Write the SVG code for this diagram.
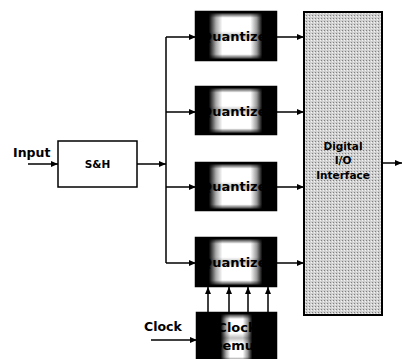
<svg xmlns="http://www.w3.org/2000/svg" width="402" height="359" viewBox="0 0 402 359">
<style>
.lbl{font-family:"DejaVu Sans","Liberation Sans",sans-serif;font-weight:bold;fill:#000}
.qt{font-family:"DejaVu Sans","Liberation Sans",sans-serif;font-weight:bold;fill:#000;font-size:13px;text-anchor:middle}
.ln{stroke:#000;stroke-width:1.5;fill:none}
.q{stroke:#000;stroke-width:2.5;fill:url(#qg)}
.qv{fill:url(#vg)}
</style>
<defs>
<marker id="ah" viewBox="0 0 10 10" refX="10" refY="5" markerWidth="7" markerHeight="6" markerUnits="userSpaceOnUse" orient="auto-start-reverse" preserveAspectRatio="none">
<path d="M0,0L10,5L0,10z" fill="#000"/>
</marker>
<linearGradient id="vg" x1="0" y1="0" x2="0" y2="1">
<stop offset="0" stop-color="#000" stop-opacity="1"/>
<stop offset="0.12" stop-color="#000" stop-opacity="0"/>
<stop offset="0.4" stop-color="#000" stop-opacity="0"/>
<stop offset="0.5" stop-color="#000" stop-opacity="0.25"/>
<stop offset="0.6" stop-color="#000" stop-opacity="0"/>
<stop offset="0.88" stop-color="#000" stop-opacity="0"/>
<stop offset="1" stop-color="#000" stop-opacity="1"/>
</linearGradient>
<linearGradient id="qg" x1="0" y1="0" x2="1" y2="0">
<stop offset="0" stop-color="#000"/>
<stop offset="0.16" stop-color="#000"/>
<stop offset="0.25" stop-color="#aaa"/>
<stop offset="0.33" stop-color="#fff"/>
<stop offset="0.68" stop-color="#fff"/>
<stop offset="0.76" stop-color="#999"/>
<stop offset="0.83" stop-color="#000"/>
<stop offset="1" stop-color="#000"/>
</linearGradient>
<linearGradient id="cg" x1="0" y1="0" x2="1" y2="0">
<stop offset="0" stop-color="#000"/>
<stop offset="0.3" stop-color="#000"/>
<stop offset="0.37" stop-color="#aaa"/>
<stop offset="0.42" stop-color="#fff"/>
<stop offset="0.58" stop-color="#fff"/>
<stop offset="0.64" stop-color="#999"/>
<stop offset="0.7" stop-color="#000"/>
<stop offset="1" stop-color="#000"/>
</linearGradient>
<pattern id="stip" width="3" height="3" patternUnits="userSpaceOnUse">
<rect width="3" height="3" fill="#d0d0d0"/>
<rect x="0" y="0" width="1" height="1" fill="#808080"/>
<rect x="2" y="1" width="1" height="1" fill="#f4f4f4"/>
</pattern>
</defs>

<g id="connectors">
<path class="ln" d="M28,164H58" marker-end="url(#ah)"/>
<path class="ln" d="M137,164H166" marker-end="url(#ah)"/>
<path class="ln" d="M166,37V263"/>
<path class="ln" d="M166,37H196" marker-end="url(#ah)"/>
<path class="ln" d="M166,112H196" marker-end="url(#ah)"/>
<path class="ln" d="M166,187H196" marker-end="url(#ah)"/>
<path class="ln" d="M166,263H196" marker-end="url(#ah)"/>
<path class="ln" d="M276,37H304" marker-end="url(#ah)"/>
<path class="ln" d="M276,112H304" marker-end="url(#ah)"/>
<path class="ln" d="M276,187H304" marker-end="url(#ah)"/>
<path class="ln" d="M276,263H304" marker-end="url(#ah)"/>
<path class="ln" d="M382,163H402" marker-end="url(#ah)"/>
<path class="ln" d="M151,340H197" marker-end="url(#ah)"/>
<path class="ln" d="M208,313V287" marker-end="url(#ah)"/>
<path class="ln" d="M229,313V287" marker-end="url(#ah)"/>
<path class="ln" d="M248,313V287" marker-end="url(#ah)"/>
<path class="ln" d="M268,313V287" marker-end="url(#ah)"/>
</g>

<g id="input-label"><text class="lbl" x="13" y="157" font-size="12.5">Input</text></g>
<g id="clock-label"><text class="lbl" x="144" y="331" font-size="12.5">Clock</text></g>

<g id="sh">
<rect x="58" y="141" width="79" height="46" fill="#fff" stroke="#000" stroke-width="1.5"/>
<text class="lbl" x="97.5" y="168" font-size="10.5" text-anchor="middle">S&amp;H</text>
</g>

<g id="q1">
<rect class="q" x="196" y="12" width="80" height="48"/>
<rect class="qv" x="196" y="12" width="80" height="48"/>
<text class="qt" x="237" y="41">Quantizer</text>
</g>
<g id="q2">
<rect class="q" x="196" y="87" width="80" height="47"/>
<rect class="qv" x="196" y="87" width="80" height="47"/>
<text class="qt" x="237" y="116">Quantizer</text>
</g>
<g id="q3">
<rect class="q" x="196" y="163" width="80" height="47"/>
<rect class="qv" x="196" y="163" width="80" height="47"/>
<text class="qt" x="237" y="191">Quantizer</text>
</g>
<g id="q4">
<rect class="q" x="196" y="238" width="80" height="48"/>
<rect class="qv" x="196" y="238" width="80" height="48"/>
<text class="qt" x="237" y="267">Quantizer</text>
</g>

<g id="clockdemux">
<rect x="197" y="313" width="79" height="50" fill="url(#cg)" stroke="#000" stroke-width="2.5"/>
<rect class="qv" x="197" y="313" width="79" height="50"/>
<text class="qt" x="237" y="332">Clock</text>
<text class="qt" x="237" y="350">Demux</text>
</g>

<g id="dio">
<rect x="304" y="12" width="78" height="303" fill="url(#stip)" stroke="#000" stroke-width="2"/>
<text class="lbl" x="343" y="150" font-size="10.5" text-anchor="middle">Digital</text>
<text class="lbl" x="343" y="164" font-size="10.5" text-anchor="middle">I/O</text>
<text class="lbl" x="343" y="179" font-size="10.5" text-anchor="middle">Interface</text>
</g>
</svg>
